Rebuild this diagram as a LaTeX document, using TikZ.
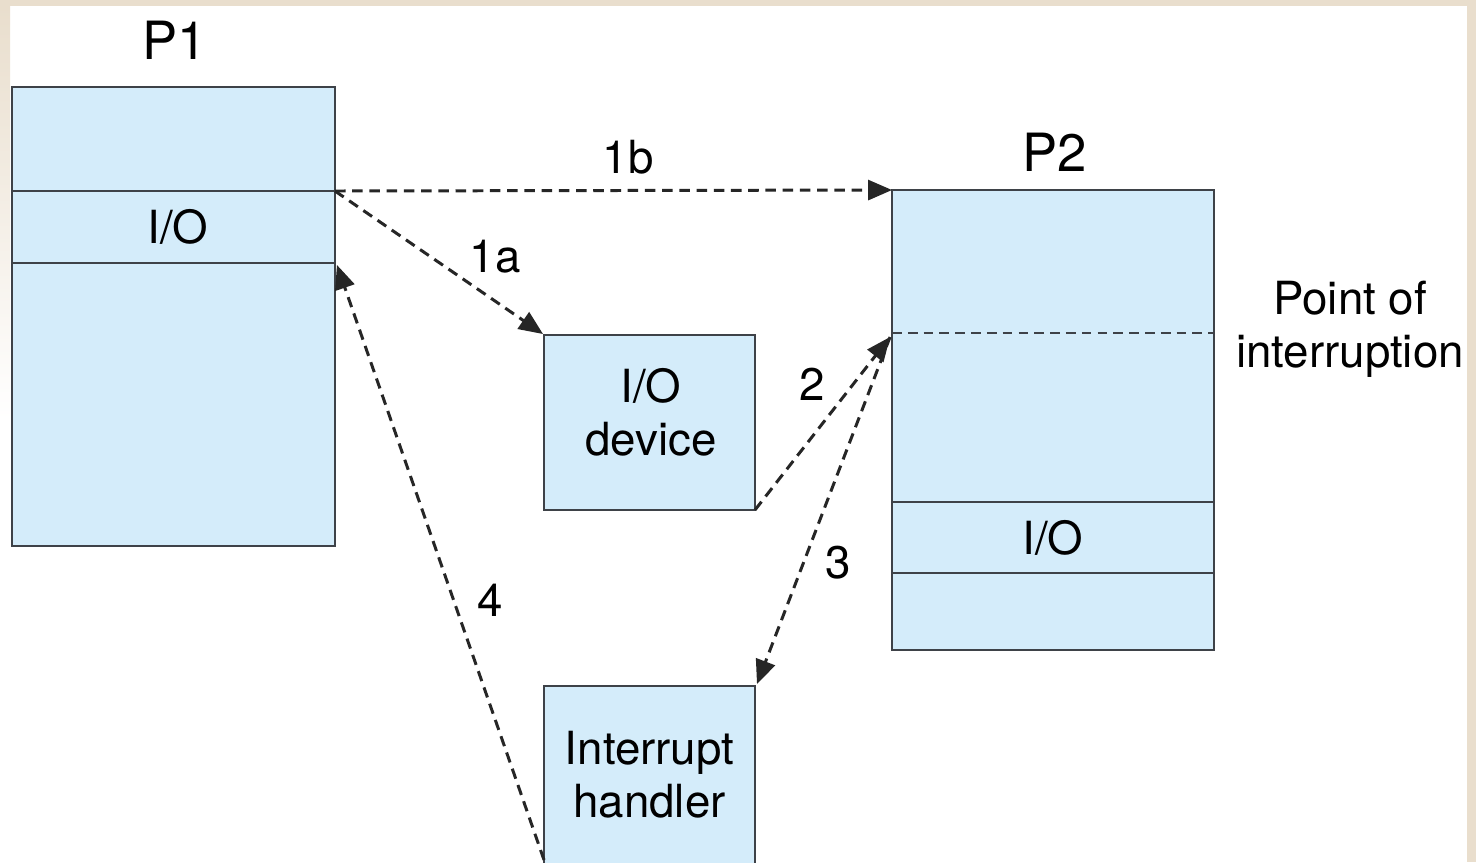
\documentclass[tikz,border=0pt]{standalone}
\usepackage{fontspec}
\setmainfont{TeX Gyre Heros}
\usetikzlibrary{arrows.meta,calc}
\definecolor{boxfill}{RGB}{212,236,250}
\definecolor{boxline}{RGB}{62,66,72}
\definecolor{beige}{RGB}{233,222,205}
\tikzset{
  px/.style={x=0.02cm,y=-0.02cm},
  sect/.style={fill=boxfill,draw=boxline,line width=1.4pt,inner sep=0pt,outer sep=0pt,minimum width=#1},
  sectfill/.style={fill=boxfill,draw=none,inner sep=0pt,outer sep=0pt,minimum width=#1},
  border/.style={draw=boxline,line width=1.4pt},
  lbl/.style={font=\fontsize{26}{30}\selectfont,align=center,inner sep=0pt},
  ttl/.style={font=\fontsize{30}{34}\selectfont,inner sep=0pt},
  conn/.style={draw=black!85,line width=1.7pt,dash pattern=on 6pt off 3.8pt,
    -{Triangle[length=0.48cm,width=0.4cm]}},
}
\begin{document}
\begin{tikzpicture}[px]
\useasboundingbox (0,0) rectangle (1476,862);
\fill[white] (0,0) rectangle (1476,862);
% frame
\fill[beige] (0,0) rectangle (1476,6);
\fill[beige] (1467,0) rectangle (1476,862);
\shade[top color=beige,bottom color=white] (0,6) rectangle (10,420);

% P1
\node[sect=6.46cm,minimum height=2.08cm] (P1a) at (173.5,139) {};
\node[sect=6.46cm,minimum height=5.66cm] (P1b) at (173.5,404.5) {};
\node[sect=6.46cm,minimum height=1.44cm] (P1io) at (173.5,227) {};
\node[lbl] (P1iot) at (178,227) {I/O};
\node[ttl] (P1t) at (175,40) {P1};

% P2
\node[sectfill=6.44cm,minimum height=2.86cm] (P2a) at (1053,261.5) {};
\node[sectfill=6.44cm,minimum height=3.38cm] (P2b) at (1053,417.5) {};
\node[sectfill=6.44cm,minimum height=1.42cm,lbl] (P2io) at (1053,537.5) {I/O};
\node[sectfill=6.44cm,minimum height=1.54cm] (P2c) at (1053,611.5) {};
\draw[border] (P2a.north west) rectangle (P2c.south east);
\draw[boxline,line width=1.4pt,dash pattern=on 5.5pt off 3.5pt] (P2b.north west) -- (P2b.north east);
\draw[border] (P2io.north west) -- (P2io.north east);
\draw[border] (P2io.south west) -- (P2io.south east);
\node[ttl] (P2t) at (1055,152) {P2};
\coordinate (poi) at ($(P2b.north west)+(-2,4)$);

% I/O device and interrupt handler
\node[sect=4.22cm,minimum height=3.5cm] (dev) at (649.5,422.5) {};
\node[lbl] (devt) at (651,412) {I/O\\device};
\node[sect=4.22cm,minimum height=3.56cm,lbl] (ih) at (649.5,775) {Interrupt\\handler};

\node[lbl] (poit) at (1350,329) {Point of\\interruption};

% connectors
\draw[conn] (P1io.north east) -- (P2a.north west);
\draw[conn] (P1io.north east) -- ($(dev.north west)+(-1,-1)$);
\draw[conn] (dev.south east) -- (poi);
\draw[conn] (poi) -- ($(ih.north east)+(2,-2)$);
\draw[conn] ($(ih.south west)+(0,-4)$) -- ($(P1io.south east)+(2,2)$);

% connector labels
\node[lbl] (l1b) at (628,157) {1b};
\node[lbl] (l1a) at (495,257) {1a};
\node[lbl] (l2) at (812,384) {2};
\node[lbl] (l3) at (838,563) {3};
\node[lbl] (l4) at (490,600) {4};
\end{tikzpicture}
\end{document}
